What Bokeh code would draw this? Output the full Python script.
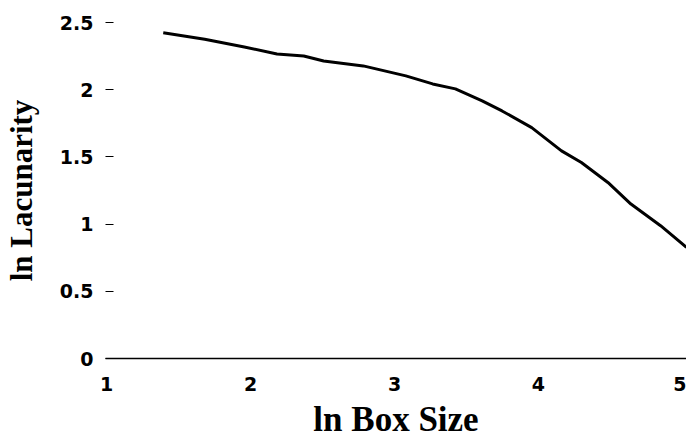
from bokeh.plotting import figure
from bokeh.models import Range1d, FixedTicker
from bokeh.embed import file_html
from bokeh.resources import INLINE

# data
ln_box_size = [1.394, 1.682, 1.957, 2.184, 2.370, 2.508, 2.783, 3.079, 3.265, 3.423,
               3.609, 3.747, 3.953, 4.160, 4.298, 4.482, 4.642, 4.848, 5.028]
ln_lacunarity = [2.424, 2.375, 2.318, 2.266, 2.251, 2.214, 2.177, 2.103, 2.043, 2.006,
                 1.917, 1.842, 1.718, 1.545, 1.458, 1.310, 1.149, 0.988, 0.827]

x_ticks = [1, 2, 3, 4, 5]
x_tick_labels = ["1", "2", "3", "4", "5"]
y_ticks = [0, 0.5, 1, 1.5, 2, 2.5]
y_tick_labels = ["0", "0.5", "1", "1.5", "2", "2.5"]

p = figure(width=686, height=442,
           x_range=Range1d(0.993, 5.028), y_range=Range1d(0, 2.5),
           output_backend="svg", toolbar_location=None,
           min_border_left=100, min_border_right=0,
           min_border_top=22, min_border_bottom=84)
p.outline_line_color = None
p.xgrid.grid_line_color = None
p.ygrid.grid_line_color = None
p.background_fill_color = "white"
p.border_fill_color = "white"

p.line(ln_box_size, ln_lacunarity, line_width=3, color="black", line_join="round")

tick_font = "DejaVu Sans"
title_font = "Liberation Serif"

xa = p.xaxis[0]
xa.ticker = FixedTicker(ticks=x_ticks)
xa.major_label_overrides = {t: l for t, l in zip(x_ticks, x_tick_labels)}
xa.axis_line_color = "black"
xa.axis_line_width = 1.3
xa.major_tick_line_color = None
xa.minor_tick_line_color = None
xa.major_tick_in = 0
xa.major_tick_out = 0
xa.major_label_standoff = 18
xa.major_label_text_font = tick_font
xa.major_label_text_font_style = "bold"
xa.major_label_text_font_size = "19px"
xa.major_label_text_color = "black"
xa.axis_label = "ln Box Size"
xa.axis_label_text_font = title_font
xa.axis_label_text_font_style = "bold"
xa.axis_label_text_font_size = "35px"
xa.axis_label_text_color = "black"
xa.axis_label_standoff = 6

ya = p.yaxis[0]
ya.ticker = FixedTicker(ticks=y_ticks)
ya.major_label_overrides = {t: l for t, l in zip(y_ticks, y_tick_labels)}
ya.axis_line_color = None
ya.major_tick_line_color = "black"
ya.major_tick_line_width = 1.2
ya.minor_tick_line_color = None
ya.major_tick_in = 8
ya.major_tick_out = 0
ya.major_label_standoff = 12
ya.major_label_text_font = tick_font
ya.major_label_text_font_style = "bold"
ya.major_label_text_font_size = "19px"
ya.major_label_text_color = "black"
ya.axis_label = "ln Lacunarity"
ya.axis_label_text_font = title_font
ya.axis_label_text_font_style = "bold"
ya.axis_label_text_font_size = "31px"
ya.axis_label_text_color = "black"
ya.axis_label_standoff = 18

open("out.html", "w").write(file_html(p, INLINE))
